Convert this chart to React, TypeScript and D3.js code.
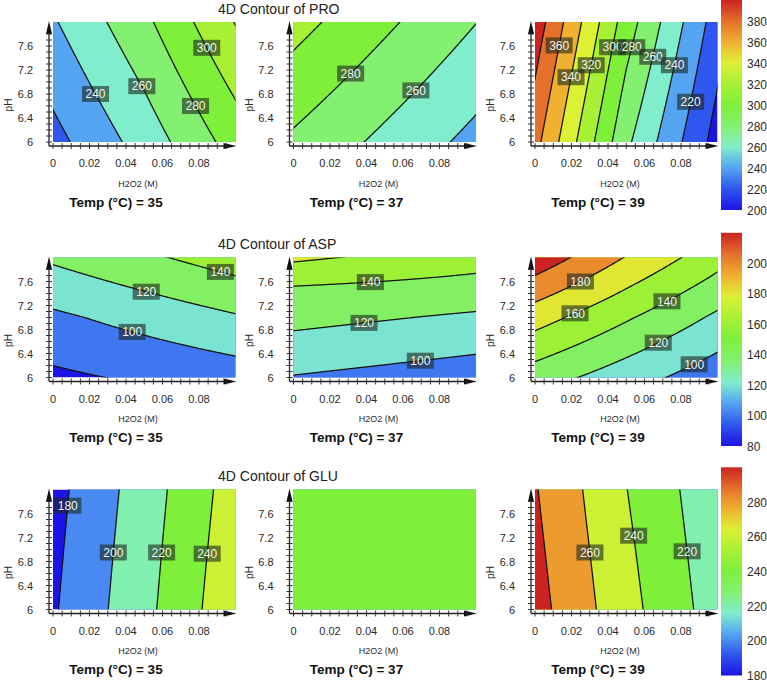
import React, { useMemo } from 'react';
import * as d3 from 'd3';

// ---------- data ----------
const RESPONSES = ['PRO', 'ASP', 'GLU'];
const TEMPS = [35, 37, 39];
const X_TICKS = [0, 0.02, 0.04, 0.06, 0.08];
const Y_TICKS = [6, 6.4, 6.8, 7.2, 7.6];
const X_DOMAIN = [0, 0.1];
const Y_DOMAIN = [6, 8];

const PRO_RANGE = [200, 400];
const ASP_RANGE = [80, 220];
const GLU_RANGE = [180, 300];
const PRO_CBAR_TICKS = [200, 220, 240, 260, 280, 300, 320, 340, 360, 380];
const ASP_CBAR_TICKS = [80, 100, 120, 140, 160, 180, 200];
const GLU_CBAR_TICKS = [180, 200, 220, 240, 260, 280];

// response values on a node grid: rows pH 6 -> 8, columns H2O2 0 -> 0.1 (M)
const PRO_35 = [[213.4, 248.4, 288.6], [225.7, 261.9, 304.8], [237.9, 275.4, 320.9]];
const PRO_37 = [[276.4, 255.2, 234.0], [291.9, 269.6, 247.2], [307.3, 283.9, 260.4]];
const PRO_39 = [[366.6, 264.2, 191.8], [379.3, 277.2, 200.9], [391.9, 290.2, 210.0]];
const ASP_35 = [[76.0, 83.0, 90.0], [96.2, 107.1, 118.0], [123.2, 136.5, 149.7]];
const ASP_37 = [[98.9, 94.2, 89.4], [112.6, 107.9, 103.1], [125.9, 121.4, 116.9], [138.9, 135.7, 132.4], [163.7, 156.1, 148.5]];
const ASP_39 = [[129.7, 109.0, 88.2], [168.6, 142.4, 116.3], [213.4, 179.0, 147.6]];
const GLU_35 = [[177.8, 214.5, 254.8], [175.7, 212.3, 252.2], [173.5, 210.0, 249.5]];
const GLU_37 = [[232, 232, 232], [232, 232, 232], [232, 232, 232]];
const GLU_39 = [[287.4, 246.7, 210.6], [284.4, 243.6, 208.1], [281.4, 240.4, 205.6]];

// contour labels: [level, pH where the label sits]
const PRO_35_LABELS = [[240, 6.8], [260, 6.93], [280, 6.6], [300, 7.57]];
const PRO_37_LABELS = [[280, 7.14], [260, 6.86]];
const PRO_39_LABELS = [[360, 7.61], [340, 7.08], [320, 7.28], [300, 7.58], [280, 7.58], [260, 7.42], [240, 7.28], [220, 6.67]];
const ASP_35_LABELS = [[80, 6.21], [100, 6.76], [120, 7.43], [140, 7.76]];
const ASP_37_LABELS = [[140, 7.59], [120, 6.91], [100, 6.28]];
const ASP_39_LABELS = [[180, 7.6], [160, 7.07], [140, 7.27], [120, 6.58], [100, 6.22]];
const GLU_35_LABELS = [[180, 7.73], [200, 6.95], [220, 6.95], [240, 6.93]];
const GLU_37_LABELS: number[][] = [];
const GLU_39_LABELS = [[260, 6.95], [240, 7.23], [220, 6.97]];

const GRIDS = [[PRO_35, PRO_37, PRO_39], [ASP_35, ASP_37, ASP_39], [GLU_35, GLU_37, GLU_39]];
const LABELS = [[PRO_35_LABELS, PRO_37_LABELS, PRO_39_LABELS], [ASP_35_LABELS, ASP_37_LABELS, ASP_39_LABELS], [GLU_35_LABELS, GLU_37_LABELS, GLU_39_LABELS]];
const RANGES = [PRO_RANGE, ASP_RANGE, GLU_RANGE];
const CBAR_TICKS = [PRO_CBAR_TICKS, ASP_CBAR_TICKS, GLU_CBAR_TICKS];

// ---------- style / layout ----------
const W = 767, H = 683;
const COL_LEFT = [53, 293.5, 535];
const ROW_TOP = [22, 257.5, 489.5];
const PW = 182.5, PH = 120;
const CBAR_X = 721, CBAR_W = 21;
const CBAR_Y = [[210, 0], [446, 232.8], [675.5, 467.3]];
const FONT = '"Liberation Sans", Arial, Helvetica, sans-serif';
const TEXT = '#2a2a2a';

const CMAP_T = [0, 0.1, 0.2, 0.3, 0.4, 0.5, 0.6, 0.7, 0.8, 0.9, 1];
const CMAP_C = ['#1c14e6', '#2f56ee', '#55a4f2', '#80eecc', '#84f072', '#7ef03a', '#a8f034', '#dcf034', '#f0b030', '#e4702a', '#cc2222'];
const cmap = d3.scaleLinear<string>().domain(CMAP_T).range(CMAP_C).interpolate(d3.interpolateRgb).clamp(true);

function field(grid: number[][], x: number, p: number) {
  const rows = grid.length, cols = grid[0].length;
  const fx = ((x - X_DOMAIN[0]) / (X_DOMAIN[1] - X_DOMAIN[0])) * (cols - 1);
  const fy = ((p - Y_DOMAIN[0]) / (Y_DOMAIN[1] - Y_DOMAIN[0])) * (rows - 1);
  const i = Math.max(0, Math.min(cols - 2, Math.floor(fx)));
  const j = Math.max(0, Math.min(rows - 2, Math.floor(fy)));
  const u = fx - i, v = fy - j;
  const z00 = grid[j][i], z10 = grid[j][i + 1], z01 = grid[j + 1][i], z11 = grid[j + 1][i + 1];
  return z00 * (1 - u) * (1 - v) + z10 * u * (1 - v) + z01 * (1 - u) * v + z11 * u * v;
}

const NX = 150, NY = 100;
const X0 = -0.006, X1 = 0.106, P0 = 5.88, P1 = 8.12;

function Panel({ r, c }: { r: number; c: number }) {
  const grid = GRIDS[r][c];
  const labels = LABELS[r][c];
  const range = RANGES[r];
  const left = COL_LEFT[c], top = ROW_TOP[r];
  const sx = d3.scaleLinear().domain(X_DOMAIN).range([left, left + PW]);
  const sy = d3.scaleLinear().domain(Y_DOMAIN).range([top + PH, top]);
  const norm = d3.scaleLinear().domain(range).range([0, 1]);
  const color = (v: number) => cmap(norm(Math.min(v, range[1])));

  const { contours, path, levels } = useMemo(() => {
    const values = new Array(NX * NY);
    for (let j = 0; j < NY; j++) {
      for (let i = 0; i < NX; i++) {
        const x = X0 + ((i + 0.5) * (X1 - X0)) / NX;
        const p = P1 - ((j + 0.5) * (P1 - P0)) / NY;
        values[j * NX + i] = field(grid, x, p);
      }
    }
    const levels = d3.range(range[0], range[1], 20);
    const contours = d3.contours().size([NX, NY]).thresholds(levels)(values);
    const proj = d3.geoTransform({
      point: function (this: any, gx: number, gy: number) {
        this.stream.point(sx(X0 + (gx * (X1 - X0)) / NX), sy(P1 - (gy * (P1 - P0)) / NY));
      },
    });
    return { contours, path: d3.geoPath(proj), levels };
  }, [r, c]);

  const clipId = `clip-${r}-${c}`;
  const ax = left - 4;
  const ay = top + PH + 4;
  const yMinor = d3.range(6, 7.85, 0.1);
  const xMinor = d3.range(0, 0.0951, 0.005);

  const labelMarks = labels
    .map(([lev, p]) => {
      let found: number | null = null;
      const n = 400;
      for (let k = 0; k < n; k++) {
        const xa = (k / n) * 0.1, xb = ((k + 1) / n) * 0.1;
        const fa = field(grid, xa, p) - lev, fb = field(grid, xb, p) - lev;
        if (fa === 0) { found = xa; break; }
        if (fa * fb < 0) { found = xa + (fa / (fa - fb)) * (xb - xa); break; }
      }
      if (found === null) return null;
      const bw = 27, bh = 16;
      const px = Math.max(left + bw / 2, Math.min(left + PW - bw / 2, sx(found)));
      const py = sy(p);
      return { lev, px, py, bw, bh };
    })
    .filter(Boolean) as { lev: number; px: number; py: number; bw: number; bh: number }[];

  return (
    <g>
      <defs>
        <clipPath id={clipId}>
          <rect x={left} y={top} width={PW} height={PH} />
        </clipPath>
      </defs>
      <g clipPath={`url(#${clipId})`}>
        <rect x={left} y={top} width={PW} height={PH} fill={color(levels[0])} />
        {contours.map((ct: any, k: number) => (
          <path key={`f${k}`} d={path(ct) || ''} fill={color(ct.value + 20)} stroke="none" />
        ))}
        {contours.map((ct: any, k: number) => (
          <path key={`s${k}`} d={path(ct) || ''} fill="none" stroke="#111" strokeWidth={1.25} />
        ))}
        {labelMarks.map((m, k) => (
          <g key={`l${k}`}>
            <rect x={m.px - m.bw / 2} y={m.py - m.bh / 2} width={m.bw} height={m.bh} fill="#1a261a" fillOpacity={0.6} />
            <text x={m.px} y={m.py + 4.2} textAnchor="middle" fontSize={12} fill="#f4f4f4" fontFamily={FONT}>
              {m.lev}
            </text>
          </g>
        ))}
      </g>
      {/* y axis */}
      <line x1={ax} y1={ay} x2={ax} y2={top + 8} stroke="#222" strokeWidth={1.3} />
      <path d={`M${ax},${top - 1} L${ax - 3},${top + 12} L${ax + 3},${top + 12} Z`} fill="#111" />
      {yMinor.map((p, k) => (
        <line key={`yt${k}`} x1={ax - 3} x2={ax + 3} y1={sy(p)} y2={sy(p)} stroke="#333" strokeWidth={1} />
      ))}
      {/* x axis */}
      <line x1={ax} y1={ay} x2={left + PW - 8} y2={ay} stroke="#222" strokeWidth={1.3} />
      <path d={`M${left + PW + 1},${ay} L${left + PW - 12},${ay - 3} L${left + PW - 12},${ay + 3} Z`} fill="#111" />
      {xMinor.map((x, k) => (
        <line key={`xt${k}`} x1={sx(x)} x2={sx(x)} y1={ay - 3} y2={ay + 3} stroke="#333" strokeWidth={1} />
      ))}
      {X_TICKS.map((t, k) => (
        <text key={`xl${k}`} x={sx(t)} y={top + PH + 25} textAnchor="middle" fontSize={11} fill={TEXT} fontFamily={FONT}>
          {t === 0 ? '0' : t.toFixed(2)}
        </text>
      ))}
      {Y_TICKS.map((t, k) => (
        <text key={`yl${k}`} x={left - 20} y={sy(t) + 4} textAnchor="end" fontSize={11} fill={TEXT} fontFamily={FONT}>
          {String(t)}
        </text>
      ))}
      <text x={left + 85} y={top + PH + 44.5} textAnchor="middle" fontSize={9} fill={TEXT} fontFamily={FONT}>
        H2O2 (M)
      </text>
      <text
        transform={`translate(${left - 41},${top + PH / 2 + 23}) rotate(-90)`}
        textAnchor="middle"
        fontSize={10}
        fill={TEXT}
        fontFamily={FONT}
      >
        pH
      </text>
      <text x={left + 63} y={top + PH + 64.5} textAnchor="middle" fontSize={13.5} fontWeight="bold" fill="#111" fontFamily={FONT}>
        {`Temp (°C) = ${TEMPS[c]}`}
      </text>
    </g>
  );
}

function ColorBar({ r }: { r: number }) {
  const range = RANGES[r];
  const [yb, yt] = CBAR_Y[r];
  const cy = d3.scaleLinear().domain(range).range([yb, yt]);
  const id = `grad-${r}`;
  return (
    <g>
      <defs>
        <linearGradient id={id} x1="0" y1="1" x2="0" y2="0">
          {CMAP_T.map((t, k) => (
            <stop key={k} offset={`${t * 100}%`} stopColor={CMAP_C[k]} />
          ))}
        </linearGradient>
      </defs>
      <rect x={CBAR_X} y={yt} width={CBAR_W} height={yb - yt} fill={`url(#${id})`} />
      {CBAR_TICKS[r].map((v, k) => (
        <text key={k} x={747} y={cy(v) + 4.5} fontSize={12} fill={TEXT} fontFamily={FONT}>
          {v}
        </text>
      ))}
    </g>
  );
}

export default function App() {
  return (
    <svg width={W} height={H} style={{ position: 'absolute', left: 0, top: 0, background: '#fff' }}>
      <rect x={0} y={0} width={W} height={H} fill="#fff" />
      {RESPONSES.map((name, r) => (
        <g key={name}>
          <text x={218} y={ROW_TOP[r] - 8.5} fontSize={14} fill="#222" fontFamily={FONT}>
            {`4D Contour of ${name}`}
          </text>
          {TEMPS.map((t, c) => (
            <Panel key={`${r}-${c}`} r={r} c={c} />
          ))}
          <ColorBar r={r} />
        </g>
      ))}
    </svg>
  );
}
